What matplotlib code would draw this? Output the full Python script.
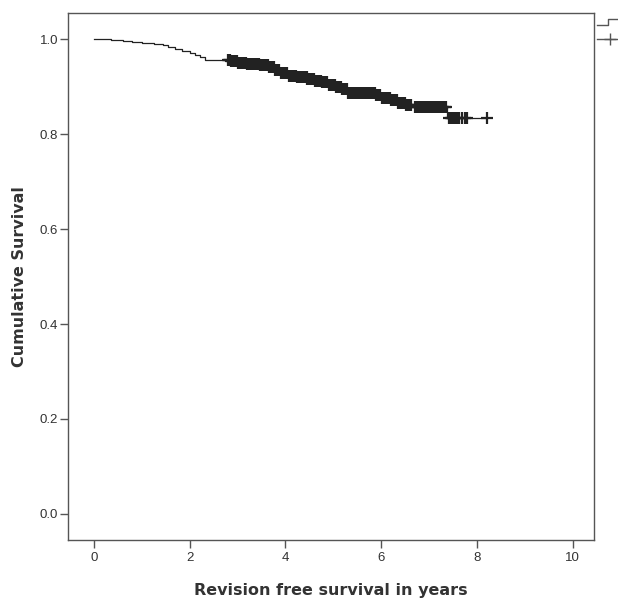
import matplotlib
matplotlib.use("Agg")
import numpy as np
import matplotlib.pyplot as plt
from matplotlib.lines import Line2D

# ── Data ──────────────────────────────────────────────────────────────────────
# step-function drop times (years) and survival after each drop
step_times = [0.0, 0.35, 0.6, 0.8, 1.0, 1.25, 1.45, 1.55, 1.7, 1.85, 2.0, 2.12,
              2.22, 2.32, 2.85, 3.0, 3.2, 3.45, 3.65, 3.78, 3.9, 4.05, 4.25,
              4.45, 4.6, 4.75, 4.9, 5.05, 5.18, 5.3, 5.9, 6.0, 6.2, 6.35, 6.5,
              6.65, 7.37]
step_surv = [1.0, 0.999, 0.997, 0.995, 0.993, 0.991, 0.988, 0.984, 0.980, 0.975,
             0.970, 0.966, 0.962, 0.957, 0.954, 0.951, 0.948, 0.946, 0.942,
             0.935, 0.929, 0.923, 0.920, 0.917, 0.913, 0.909, 0.904, 0.900,
             0.895, 0.887, 0.882, 0.877, 0.872, 0.866, 0.861, 0.857, 0.835]
last_time = 8.2

# censored observations (years)
censor_times = [2.80, 2.82, 2.84, 2.86, 2.88, 2.91, 2.93, 2.95, 2.97, 2.99,
                3.01, 3.03, 3.05, 3.08, 3.10, 3.12, 3.14, 3.16, 3.18, 3.20,
                3.22, 3.25, 3.27, 3.29, 3.31, 3.33, 3.35, 3.38, 3.40, 3.42,
                3.44, 3.46, 3.48, 3.50, 3.52, 3.55, 3.57, 3.59, 3.61, 3.63,
                3.66, 3.68, 3.70, 3.72, 3.74, 3.77, 3.79, 3.81, 3.83, 3.85,
                3.87, 3.90, 3.92, 3.94, 3.96, 3.98, 4.00, 4.02, 4.04, 4.07,
                4.09, 4.11, 4.13, 4.16, 4.18, 4.20, 4.22, 4.25, 4.27, 4.29,
                4.31, 4.33, 4.35, 4.38, 4.40, 4.42, 4.44, 4.46, 4.48, 4.51,
                4.53, 4.55, 4.57, 4.59, 4.61, 4.64, 4.66, 4.68, 4.70, 4.72,
                4.74, 4.77, 4.79, 4.81, 4.83, 4.85, 4.87, 4.90, 4.92, 4.94,
                4.96, 4.98, 5.00, 5.03, 5.05, 5.07, 5.09, 5.11, 5.13, 5.16,
                5.18, 5.20, 5.22, 5.24, 5.26, 5.29, 5.31, 5.33, 5.35, 5.37,
                5.39, 5.42, 5.44, 5.46, 5.48, 5.50, 5.52, 5.55, 5.57, 5.59,
                5.61, 5.63, 5.65, 5.68, 5.70, 5.72, 5.74, 5.76, 5.78, 5.81,
                5.83, 5.85, 5.87, 5.90, 5.92, 5.94, 5.96, 5.98, 6.01, 6.03,
                6.05, 6.07, 6.09, 6.12, 6.14, 6.16, 6.18, 6.20, 6.22, 6.25,
                6.27, 6.29, 6.31, 6.33, 6.36, 6.38, 6.40, 6.42, 6.44, 6.47,
                6.49, 6.51, 6.53, 6.55, 6.57, 6.60, 6.62, 6.70, 6.72, 6.75,
                6.77, 6.80, 6.83, 6.86, 6.88, 6.91, 6.94, 6.97, 6.99, 7.02,
                7.05, 7.08, 7.10, 7.13, 7.16, 7.19, 7.21, 7.24, 7.27, 7.30,
                7.33, 7.36, 7.42, 7.45, 7.47, 7.50, 7.52, 7.55, 7.58, 7.63,
                7.68, 7.74, 7.79, 8.20]

x_ticks = [0, 2, 4, 6, 8, 10]
y_ticks = [0.0, 0.2, 0.4, 0.6, 0.8, 1.0]

# ── Plot ─────────────────────────────────────────────────────────────────────
plt.rcParams["font.family"] = ["Liberation Sans", "DejaVu Sans"]

fig = plt.figure(figsize=(6.18, 5.98), dpi=100)
ax = fig.add_axes([0.110, 0.097, 0.851, 0.881])

LINE_COLOR = "#222222"
AXIS_COLOR = "#555555"
TEXT_COLOR = "#333333"

xs = list(step_times) + [last_time]
ys = list(step_surv) + [step_surv[-1]]
ax.step(xs, ys, where="post", color=LINE_COLOR, linewidth=0.9)

st = np.array(step_times)
sv = np.array(step_surv)
c_surv = [sv[np.searchsorted(st, t, side="right") - 1] for t in censor_times]
ax.plot(censor_times, c_surv, linestyle="none", marker="+",
        markersize=8.5, markeredgewidth=1.6, color=LINE_COLOR)

ax.set_xlim(-0.54, 10.44)
ax.set_ylim(-0.055, 1.055)
ax.set_xticks(x_ticks)
ax.set_xticklabels([str(v) for v in x_ticks])
ax.set_yticks(y_ticks)
ax.set_yticklabels([f"{v:.1f}" for v in y_ticks])

for s in ax.spines.values():
    s.set_color(AXIS_COLOR)
    s.set_linewidth(1.0)
ax.tick_params(direction="out", length=6, width=1.0, color=AXIS_COLOR,
               labelsize=9.5, labelcolor=TEXT_COLOR, pad=1)
ax.tick_params(axis="x", pad=3)

label_kw = dict(fontsize=11.5, fontweight="bold", color=TEXT_COLOR,
                family=["DejaVu Sans"])
ax.set_xlabel("Revision free survival in years", labelpad=13, **label_kw)
ax.set_ylabel("Cumulative Survival", labelpad=9, **label_kw)

# truncated legend symbols at the top right
W, H = 618, 598
def fx(x):
    return x / W
def fy(y):
    return 1 - y / H

fig.add_artist(Line2D([fx(597), fx(608), fx(608), fx(618)],
                      [fy(25), fy(25), fy(19), fy(19)],
                      color=AXIS_COLOR, linewidth=1.0, transform=fig.transFigure))
fig.add_artist(Line2D([fx(597), fx(618)], [fy(39), fy(39)],
                      color=AXIS_COLOR, linewidth=1.0, transform=fig.transFigure))
fig.add_artist(Line2D([fx(610)], [fy(39)], marker="+", markersize=9,
                      markeredgewidth=1.0, color=AXIS_COLOR,
                      transform=fig.transFigure))

fig.savefig("out.png", dpi=100)
